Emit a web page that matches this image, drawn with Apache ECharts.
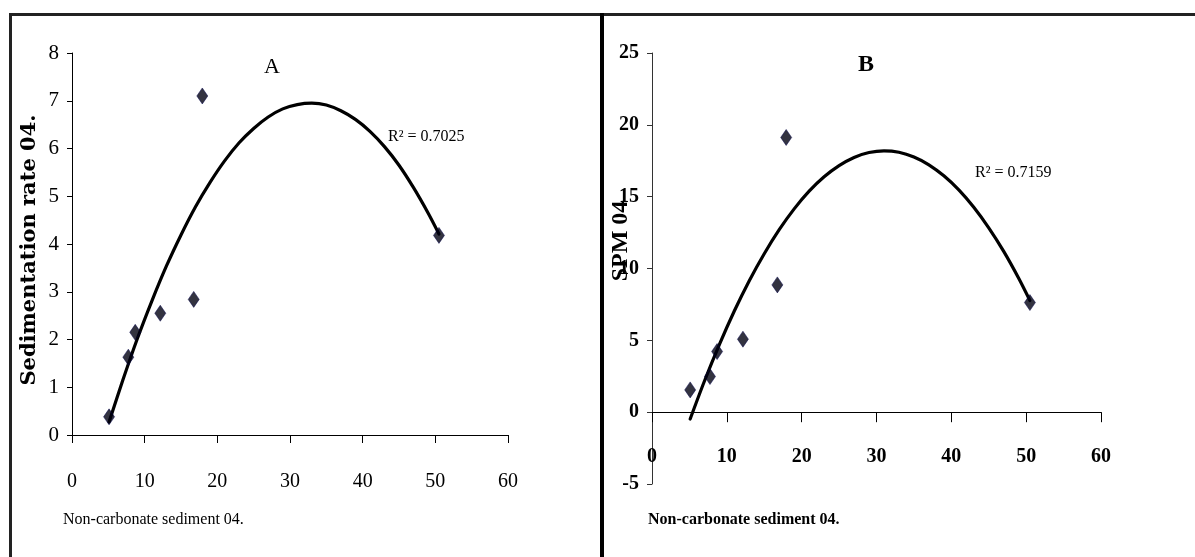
<!DOCTYPE html>
<html>
<head>
<meta charset="utf-8">
<script src="https://cdn.jsdelivr.net/npm/echarts@6/dist/echarts.min.js"></script>
<style>
html,body{margin:0;padding:0;background:#fff;}
#chart{width:1195px;height:557px;}
</style>
</head>
<body>
<div id="chart"></div>
<script>
// ---- data ----
const nonCarbonate = [5.1, 7.75, 8.7, 12.15, 16.75, 17.93, 50.5];
const sedRate = [0.38, 1.63, 2.15, 2.55, 2.84, 7.10, 4.18];
const spm = [1.55, 2.48, 4.22, 5.08, 8.86, 19.12, 7.63];
// polynomial trend lines
const trendX = [5.1, 7, 9, 11, 13, 15, 17, 19, 21, 23, 25, 27, 29, 31, 33, 35, 37, 39, 41, 43, 45, 47, 49, 50.5];
const trendA = [0.27, 1.15, 2.02, 2.81, 3.54, 4.19, 4.78, 5.29, 5.74, 6.12, 6.42, 6.66, 6.83, 6.92, 6.95, 6.91, 6.79, 6.61, 6.36, 6.04, 5.65, 5.18, 4.65, 4.21];
const trendB = [-0.48, 2.15, 4.70, 7.04, 9.15, 11.03, 12.70, 14.15, 15.38, 16.38, 17.16, 17.73, 18.07, 18.19, 18.09, 17.76, 17.22, 16.45, 15.47, 14.26, 12.83, 11.19, 9.32, 7.77];
const r2A = 'R² = 0.7025';
const r2B = 'R² = 0.7159';

const pairs = (xs, ys) => xs.map((x, i) => [x, ys[i]]);

const chart = echarts.init(document.getElementById('chart'), null, {renderer: 'canvas'});

const serif = '"Liberation Serif", "Times New Roman", serif';
const markerStyle = {color: '#000010', borderColor: '#00004a', borderWidth: 0.6};

chart.setOption({
  animation: false,
  backgroundColor: '#ffffff',
  grid: [
    {left: 72, top: 53, width: 436, height: 382},
    {left: 652, top: 53, width: 449, height: 431}
  ],
  xAxis: [
    {
      gridIndex: 0, type: 'value', min: 0, max: 60, interval: 10,
      splitLine: {show: false},
      axisLine: {lineStyle: {color: '#000', width: 1}},
      axisTick: {show: true, inside: false, length: 8, lineStyle: {color: '#000'}},
      axisLabel: {margin: 37, color: '#000', fontFamily: serif, fontSize: 20}
    },
    {
      gridIndex: 1, type: 'value', min: 0, max: 60, interval: 10,
      offset: -71.8,
      splitLine: {show: false},
      axisLine: {onZero: false, lineStyle: {color: '#000', width: 1}},
      axisTick: {show: true, inside: false, length: 10, lineStyle: {color: '#000'}},
      axisLabel: {margin: 35, color: '#000', fontFamily: serif, fontSize: 20, fontWeight: 'bold'}
    }
  ],
  yAxis: [
    {
      gridIndex: 0, type: 'value', min: 0, max: 8, interval: 1,
      splitLine: {show: false},
      axisLine: {show: true, lineStyle: {color: '#000', width: 1}},
      axisTick: {show: true, length: 5, lineStyle: {color: '#000'}},
      axisLabel: {margin: 13, color: '#000', fontFamily: serif, fontSize: 21}
    },
    {
      gridIndex: 1, type: 'value', min: -5, max: 25, interval: 5,
      splitLine: {show: false},
      axisLine: {show: true, onZero: false, lineStyle: {color: '#333', width: 1}},
      axisTick: {show: true, length: 5, lineStyle: {color: '#333'}},
      axisLabel: {margin: 13, color: '#000', fontFamily: serif, fontSize: 20, fontWeight: 'bold'}
    }
  ],
  series: [
    {
      type: 'line', xAxisIndex: 0, yAxisIndex: 0, data: pairs(trendX, trendA),
      smooth: 0.3, symbol: 'none', lineStyle: {color: '#000', width: 3.2, join: 'round', cap: 'round'}, z: 2
    },
    {
      type: 'scatter', xAxisIndex: 0, yAxisIndex: 0, data: pairs(nonCarbonate, sedRate),
      symbol: 'diamond', symbolSize: [11, 16], itemStyle: markerStyle, z: 3
    },
    {
      type: 'line', xAxisIndex: 1, yAxisIndex: 1, data: pairs(trendX, trendB),
      smooth: 0.3, symbol: 'none', lineStyle: {color: '#000', width: 3.2, join: 'round', cap: 'round'}, z: 2
    },
    {
      type: 'scatter', xAxisIndex: 1, yAxisIndex: 1, data: pairs(nonCarbonate, spm),
      symbol: 'diamond', symbolSize: [11, 16], itemStyle: markerStyle, z: 3
    }
  ],
  graphic: [
    // frame
    {type: 'line', shape: {x1: 9, y1: 14.5, x2: 1195, y2: 14.5}, style: {stroke: '#222', lineWidth: 3}, z: 10},
    {type: 'line', shape: {x1: 10.5, y1: 13, x2: 10.5, y2: 557}, style: {stroke: '#222', lineWidth: 3}, z: 10},
    {type: 'line', shape: {x1: 602, y1: 13, x2: 602, y2: 557}, style: {stroke: '#000', lineWidth: 4}, z: 10},
    // panel A texts
    {type: 'text', x: 272, y: 67, style: {text: 'A', fill: '#000', font: '22px ' + serif, textAlign: 'center', textVerticalAlign: 'middle'}, z: 10},
    {type: 'text', x: 388, y: 137, style: {text: r2A, fill: '#000', font: '16px ' + serif, textAlign: 'left', textVerticalAlign: 'middle'}, z: 10},
    {type: 'text', x: 30, y: 250, rotation: Math.PI / 2, style: {text: 'Sedimentation rate 04.', fill: '#000', font: 'bold 21px "DejaVu Serif", serif', textAlign: 'center', textVerticalAlign: 'middle'}, z: 10},
    {type: 'text', x: 63, y: 520, style: {text: 'Non-carbonate sediment 04.', fill: '#000', font: '16px ' + serif, textAlign: 'left', textVerticalAlign: 'middle'}, z: 10},
    // panel B texts
    {type: 'text', x: 866, y: 65, style: {text: 'B', fill: '#000', font: 'bold 24px ' + serif, textAlign: 'center', textVerticalAlign: 'middle'}, z: 10},
    {type: 'text', x: 975, y: 173, style: {text: r2B, fill: '#000', font: '16px ' + serif, textAlign: 'left', textVerticalAlign: 'middle'}, z: 10},
    {type: 'text', x: 621, y: 241, rotation: Math.PI / 2, style: {text: 'SPM 04', fill: '#000', font: 'bold 24px ' + serif, textAlign: 'center', textVerticalAlign: 'middle'}, z: 10},
    {type: 'text', x: 648, y: 520, style: {text: 'Non-carbonate sediment 04.', fill: '#000', font: 'bold 16px ' + serif, textAlign: 'left', textVerticalAlign: 'middle'}, z: 10}
  ]
});
</script>
</body>
</html>
